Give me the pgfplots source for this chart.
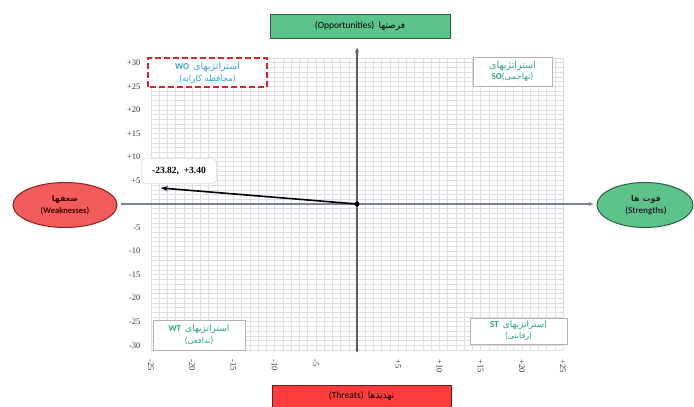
\documentclass[border=0pt]{standalone}
\usepackage{fontspec}
\usepackage{pgfplots}
\pgfplotsset{compat=1.18}
\usetikzlibrary{arrows.meta}
\setmainfont{Liberation Serif}
\newfontfamily\sansf{Carlito}
\newfontfamily\fa[Script=Arabic]{DejaVu Sans}
\TeXXeTstate=1
\newcommand{\FA}[1]{{\fa\beginR #1\endR}}
\definecolor{gridc}{HTML}{DCDFE6}
\definecolor{oppfill}{HTML}{5CC48A}
\definecolor{oppdraw}{HTML}{2E5E45}
\definecolor{thrfill}{HTML}{FF3B3B}
\definecolor{thrdraw}{HTML}{6E1A1A}
\definecolor{wkfill}{HTML}{F25C5C}
\definecolor{wkdraw}{HTML}{8A2020}
\definecolor{qteal}{HTML}{2FA584}
\definecolor{woblue}{HTML}{3AA6D4}
\definecolor{wored}{HTML}{D9262B}
\definecolor{vaxis}{HTML}{5A5A5A}
\definecolor{haxis}{HTML}{7C819C}
\begin{document}
\begin{tikzpicture}[x=1pt,y=1pt]
\path[use as bounding box] (0,0) rectangle (694,407);
\begin{axis}[
  at={(151pt,57pt)}, anchor=south west,
  scale only axis, width=412pt, height=292pt,
  xmin=-25, xmax=25, ymin=-31, ymax=31,
  clip=false,
  axis line style={draw=none},
  tick style={draw=none},
  major tick length=0pt, minor tick length=0pt,
  xtick={-25,-20,-15,-10,-5,0,5,10,15,20,25},
  xticklabels={-25,-20,-15,-10,-5,,+5,+10,+15,+20,+25},
  ytick={-30,-25,-20,-15,-10,-5,0,5,10,15,20,25,30},
  yticklabels={-30,-25,-20,-15,-10,-5,,+5,+10,+15,+20,+25,+30},
  minor xtick={-25,-24,...,25},
  minor ytick={-31,-30,...,31},
  grid=both,
  major grid style={gridc, line width=0.5pt},
  minor grid style={gridc, line width=0.5pt},
  xticklabel style={rotate=-90, anchor=west, font=\fontsize{8.5}{9}\selectfont, text=black!80},
  yticklabel style={font=\fontsize{8.5}{9}\selectfont, text=black!80},
  xticklabel shift=6pt,
  yticklabel shift=7pt,
]
% axis cross
\draw[haxis, line width=1.1pt, -{Stealth[length=5pt,width=4pt]}] (axis cs:-28.7,0) -- (axis cs:28.7,0);
\draw[vaxis, line width=1.4pt, -{Stealth[length=5pt,width=4pt]}] (axis cs:0,0) -- (axis cs:0,33.2);
\draw[vaxis, line width=1.4pt, -{Stealth[length=3pt,width=3pt]}] (axis cs:0,0) -- (axis cs:0,-31.5);
% vector
\addplot[black, line width=1.6pt, -{Stealth[length=7pt,width=5pt]}] coordinates {(0,0) (-23.82,3.40)};
\addplot[only marks, mark=*, mark size=2.2pt, black] coordinates {(0,0)};
\node[draw=gray!45, fill=white, rounded corners=4pt, minimum width=75pt, minimum height=25pt,
      font=\bfseries\fontsize{9.5}{10}\selectfont] at (axis cs:-21.6,7.0) {-23.82,\ \ +3.40};
\end{axis}
% top box
\node[draw=oppdraw, fill=oppfill, line width=0.9pt, minimum width=180pt, minimum height=24pt,
      font=\sansf\fontsize{9.5}{10}\selectfont] at (360,381)
      {(Opportunities)\ \ \FA{\fontsize{9}{10}\selectfont فرصتها}};
% bottom box
\node[draw=thrdraw, fill=thrfill, line width=0.9pt, minimum width=179pt, minimum height=24pt,
      anchor=north] at (361.5,22) {};
\node[font=\sansf\fontsize{9.5}{10}\selectfont] at (361.5,11) {(Threats)\ \ \FA{\fontsize{9}{10}\selectfont تهدیدها}};
% left ellipse
\draw[wkdraw, fill=wkfill, line width=1pt] (65,202) ellipse [x radius=52pt, y radius=22.5pt];
\node[align=center, font=\sansf\bfseries\fontsize{8.5}{12}\selectfont, text=black!75!red] at (65,202)
  {\FA{\fontsize{8}{10}\selectfont ضعفها}\\(Weaknesses)};
% right ellipse
\draw[oppdraw, fill=oppfill, line width=1pt] (645,202) ellipse [x radius=48pt, y radius=22.5pt];
\node[align=center, font=\sansf\bfseries\fontsize{9}{12}\selectfont, text=black!85] at (646,202)
  {\FA{\fontsize{8}{10}\selectfont قوت ها}\\(Strengths)};
% WO box
\draw[wored, line width=2.2pt, dash pattern=on 6pt off 3pt, fill=white] (148,320) rectangle (267,349);
\node[align=center, font=\sansf\fontsize{9}{12}\selectfont, text=woblue] at (207.5,334.5)
  {{\bfseries WO}\ \ \FA{\fontsize{9.5}{10}\selectfont استراتژیهای}\\(\FA{\fontsize{8.5}{10}\selectfont محافظه کارانه})};
% SO box
\draw[gray!60, line width=0.6pt, fill=white] (473,321) rectangle (552,350);
\node[align=center, font=\sansf\fontsize{9}{11}\selectfont, text=qteal] at (512.5,335.5)
  {\FA{\fontsize{9.5}{10}\selectfont استراتژیهای}\\{\bfseries SO}(\FA{\fontsize{8.5}{10}\selectfont تهاجمی})};
% WT box
\draw[gray!60, line width=0.6pt, fill=white] (153,57) rectangle (245,87);
\node[align=center, font=\sansf\fontsize{9}{12}\selectfont, text=qteal] at (199,72)
  {{\bfseries WT}\ \ \FA{\fontsize{9}{10}\selectfont استراتژیهای}\\(\FA{\fontsize{8}{10}\selectfont تدافعی})};
% ST box
\draw[gray!60, line width=0.6pt, fill=white] (470,63) rectangle (567,89);
\node[align=center, font=\sansf\fontsize{9}{11}\selectfont, text=qteal] at (518.5,76)
  {{\bfseries ST}\ \ \FA{\fontsize{9}{10}\selectfont استراتژیهای}\\(\FA{\fontsize{8}{10}\selectfont رقابتی})};
\end{tikzpicture}
\end{document}
